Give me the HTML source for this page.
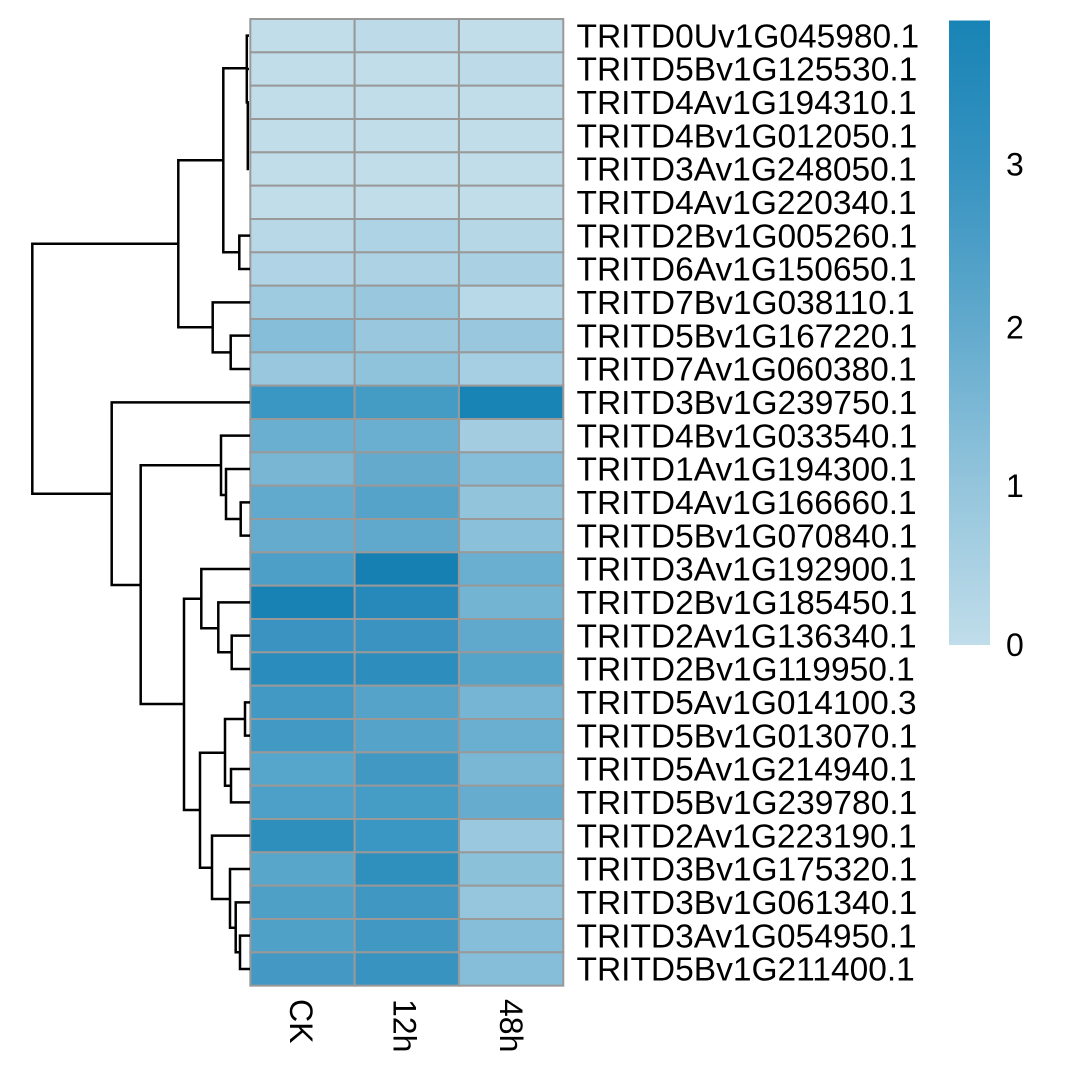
<!DOCTYPE html>
<html><head><meta charset="utf-8"><style>
html,body{margin:0;padding:0;background:#fff;}
svg{display:block;}
text{font-family:"Liberation Sans",Arial,sans-serif;fill:#000;}
</style></head><body>
<svg width="1067" height="1084" viewBox="0 0 1067 1084" xmlns="http://www.w3.org/2000/svg">
<defs>
<linearGradient id="lg" x1="0" y1="0" x2="0" y2="1">
<stop offset="0" stop-color="#1884B5"/>
<stop offset="0.23" stop-color="#3592C0"/>
<stop offset="0.49" stop-color="#62AACD"/>
<stop offset="0.746" stop-color="#94C5DC"/>
<stop offset="1" stop-color="#C0DDEA"/>
</linearGradient>
</defs>
<rect width="1067" height="1084" fill="#fff"/>
<g stroke="#999" stroke-width="2">
<!-- rows: y0=19, h=33.333; cols x0=250.3, w=104.33 -->
<rect x="250.3" y="19" width="104.33" height="33.33" fill="#C0DDE9"/><rect x="354.63" y="19" width="104.33" height="33.33" fill="#BCDAE7"/><rect x="458.96" y="19" width="104.33" height="33.33" fill="#C0DDE9"/>
<rect x="250.3" y="52.33" width="104.33" height="33.33" fill="#C0DDE9"/><rect x="354.63" y="52.33" width="104.33" height="33.33" fill="#C0DDE9"/><rect x="458.96" y="52.33" width="104.33" height="33.33" fill="#BCDAE7"/>
<rect x="250.3" y="85.67" width="104.33" height="33.33" fill="#C0DDE9"/><rect x="354.63" y="85.67" width="104.33" height="33.33" fill="#C0DDE9"/><rect x="458.96" y="85.67" width="104.33" height="33.33" fill="#C0DDE9"/>
<rect x="250.3" y="119" width="104.33" height="33.33" fill="#C0DDE9"/><rect x="354.63" y="119" width="104.33" height="33.33" fill="#C0DDE9"/><rect x="458.96" y="119" width="104.33" height="33.33" fill="#C0DDE9"/>
<rect x="250.3" y="152.33" width="104.33" height="33.33" fill="#C0DDE9"/><rect x="354.63" y="152.33" width="104.33" height="33.33" fill="#C0DDE9"/><rect x="458.96" y="152.33" width="104.33" height="33.33" fill="#C0DDE9"/>
<rect x="250.3" y="185.67" width="104.33" height="33.33" fill="#C0DDE9"/><rect x="354.63" y="185.67" width="104.33" height="33.33" fill="#C0DDE9"/><rect x="458.96" y="185.67" width="104.33" height="33.33" fill="#C0DDE9"/>
<rect x="250.3" y="219" width="104.33" height="33.33" fill="#B8D8E7"/><rect x="354.63" y="219" width="104.33" height="33.33" fill="#AED3E4"/><rect x="458.96" y="219" width="104.33" height="33.33" fill="#B6D7E6"/>
<rect x="250.3" y="252.33" width="104.33" height="33.33" fill="#B0D4E5"/><rect x="354.63" y="252.33" width="104.33" height="33.33" fill="#ADD2E3"/><rect x="458.96" y="252.33" width="104.33" height="33.33" fill="#AAD1E3"/>
<rect x="250.3" y="285.67" width="104.33" height="33.33" fill="#9FCBE1"/><rect x="354.63" y="285.67" width="104.33" height="33.33" fill="#99C8DE"/><rect x="458.96" y="285.67" width="104.33" height="33.33" fill="#B8D9E8"/>
<rect x="250.3" y="319" width="104.33" height="33.33" fill="#86BDD8"/><rect x="354.63" y="319" width="104.33" height="33.33" fill="#98C7DE"/><rect x="458.96" y="319" width="104.33" height="33.33" fill="#98C7DE"/>
<rect x="250.3" y="352.33" width="104.33" height="33.33" fill="#98C7DE"/><rect x="354.63" y="352.33" width="104.33" height="33.33" fill="#8FC3DB"/><rect x="458.96" y="352.33" width="104.33" height="33.33" fill="#A6CFE3"/>
<rect x="250.3" y="385.67" width="104.33" height="33.33" fill="#3A96C2"/><rect x="354.63" y="385.67" width="104.33" height="33.33" fill="#449CC5"/><rect x="458.96" y="385.67" width="104.33" height="33.33" fill="#1884B5"/>
<rect x="250.3" y="419" width="104.33" height="33.33" fill="#6BAFD0"/><rect x="354.63" y="419" width="104.33" height="33.33" fill="#6AAFD0"/><rect x="458.96" y="419" width="104.33" height="33.33" fill="#A3CCE1"/>
<rect x="250.3" y="452.33" width="104.33" height="33.33" fill="#78B6D4"/><rect x="354.63" y="452.33" width="104.33" height="33.33" fill="#63AACD"/><rect x="458.96" y="452.33" width="104.33" height="33.33" fill="#86BDD8"/>
<rect x="250.3" y="485.67" width="104.33" height="33.33" fill="#62AACD"/><rect x="354.63" y="485.67" width="104.33" height="33.33" fill="#55A3C9"/><rect x="458.96" y="485.67" width="104.33" height="33.33" fill="#92C4DC"/>
<rect x="250.3" y="519" width="104.33" height="33.33" fill="#64ABCD"/><rect x="354.63" y="519" width="104.33" height="33.33" fill="#60A9CC"/><rect x="458.96" y="519" width="104.33" height="33.33" fill="#8BC0DA"/>
<rect x="250.3" y="552.33" width="104.33" height="33.33" fill="#4D9FC7"/><rect x="354.63" y="552.33" width="104.33" height="33.33" fill="#1680B3"/><rect x="458.96" y="552.33" width="104.33" height="33.33" fill="#6AAFD0"/>
<rect x="250.3" y="585.67" width="104.33" height="33.33" fill="#1882B4"/><rect x="354.63" y="585.67" width="104.33" height="33.33" fill="#2789BA"/><rect x="458.96" y="585.67" width="104.33" height="33.33" fill="#74B4D3"/>
<rect x="250.3" y="619" width="104.33" height="33.33" fill="#3A93C1"/><rect x="354.63" y="619" width="104.33" height="33.33" fill="#3A93C1"/><rect x="458.96" y="619" width="104.33" height="33.33" fill="#60A9CC"/>
<rect x="250.3" y="652.33" width="104.33" height="33.33" fill="#2A8CBC"/><rect x="354.63" y="652.33" width="104.33" height="33.33" fill="#2D8DBC"/><rect x="458.96" y="652.33" width="104.33" height="33.33" fill="#54A3C9"/>
<rect x="250.3" y="685.67" width="104.33" height="33.33" fill="#4299C4"/><rect x="354.63" y="685.67" width="104.33" height="33.33" fill="#55A3C9"/><rect x="458.96" y="685.67" width="104.33" height="33.33" fill="#76B5D3"/>
<rect x="250.3" y="719" width="104.33" height="33.33" fill="#4299C4"/><rect x="354.63" y="719" width="104.33" height="33.33" fill="#55A3C9"/><rect x="458.96" y="719" width="104.33" height="33.33" fill="#6BAFD0"/>
<rect x="250.3" y="752.33" width="104.33" height="33.33" fill="#56A5CA"/><rect x="354.63" y="752.33" width="104.33" height="33.33" fill="#4199C3"/><rect x="458.96" y="752.33" width="104.33" height="33.33" fill="#7AB7D5"/>
<rect x="250.3" y="785.67" width="104.33" height="33.33" fill="#4DA0C7"/><rect x="354.63" y="785.67" width="104.33" height="33.33" fill="#459CC5"/><rect x="458.96" y="785.67" width="104.33" height="33.33" fill="#66ACCE"/>
<rect x="250.3" y="819" width="104.33" height="33.33" fill="#2E8EBC"/><rect x="354.63" y="819" width="104.33" height="33.33" fill="#3A96C2"/><rect x="458.96" y="819" width="104.33" height="33.33" fill="#9AC8DE"/>
<rect x="250.3" y="852.33" width="104.33" height="33.33" fill="#58A6CA"/><rect x="354.63" y="852.33" width="104.33" height="33.33" fill="#2F8FBD"/><rect x="458.96" y="852.33" width="104.33" height="33.33" fill="#8CC1DA"/>
<rect x="250.3" y="885.67" width="104.33" height="33.33" fill="#4EA0C7"/><rect x="354.63" y="885.67" width="104.33" height="33.33" fill="#3F97C2"/><rect x="458.96" y="885.67" width="104.33" height="33.33" fill="#96C6DD"/>
<rect x="250.3" y="919" width="104.33" height="33.33" fill="#4FA1C8"/><rect x="354.63" y="919" width="104.33" height="33.33" fill="#4199C3"/><rect x="458.96" y="919" width="104.33" height="33.33" fill="#86BDD8"/>
<rect x="250.3" y="952.33" width="104.33" height="33.33" fill="#4499C4"/><rect x="354.63" y="952.33" width="104.33" height="33.33" fill="#3993C1"/><rect x="458.96" y="952.33" width="104.33" height="33.33" fill="#86BDD8"/>
</g>
<g fill="none" stroke="#000" stroke-width="2.5" stroke-linecap="butt" stroke-linejoin="miter">
<path d="M249,35.67 H246.8 V102.33 H249"/>
<path d="M249,69 H246.8"/>
<path d="M247.8,102 V169 H249"/>
<path d="M249,135.67 H247.8"/>
<path d="M250,235.67 H239.3 V269 H250"/>
<path d="M246.8,68.3 H223.3 V252.3 H239.3"/>
<path d="M250,335.67 H230.7 V369 H250"/>
<path d="M250,302.33 H212.7 V352.33 H230.7"/>
<path d="M223.3,160.3 H178.3 V327.3 H212.7"/>
<path d="M178.3,243.8 H32.3 V493.7 H111.7"/>
<path d="M250,402.33 H111.7 V585 H140.7"/>
<path d="M250,435.67 H221 V495 H226"/>
<path d="M250,469 H226 V519 H240.7"/>
<path d="M250,502.33 H240.7 V535.67 H250"/>
<path d="M221,465.3 H140.7 V704 H184"/>
<path d="M201.3,598.7 H184 V810 H200"/>
<path d="M250,569 H201.3 V628.3 H218.3"/>
<path d="M250,602.33 H218.3 V652.3 H231.7"/>
<path d="M250,635.67 H231.7 V669 H250"/>
<path d="M225,752.7 H200 V867.7 H212"/>
<path d="M245,719 H225 V785.7 H231"/>
<path d="M250,702.33 H245 V735.67 H250"/>
<path d="M250,769 H231 V802.33 H250"/>
<path d="M250,835.67 H212 V899 H230"/>
<path d="M250,869 H230 V927.7 H235.7"/>
<path d="M250,902.33 H235.7 V952.3 H240"/>
<path d="M250,935.67 H240 V969 H250"/>
</g>
<g font-size="33.5">
<text x="576.5" y="47.4">TRITD0Uv1G045980.1</text>
<text x="576.5" y="80.7">TRITD5Bv1G125530.1</text>
<text x="576.5" y="114">TRITD4Av1G194310.1</text>
<text x="576.5" y="147.4">TRITD4Bv1G012050.1</text>
<text x="576.5" y="180.7">TRITD3Av1G248050.1</text>
<text x="576.5" y="214">TRITD4Av1G220340.1</text>
<text x="576.5" y="247.4">TRITD2Bv1G005260.1</text>
<text x="576.5" y="280.7">TRITD6Av1G150650.1</text>
<text x="576.5" y="314">TRITD7Bv1G038110.1</text>
<text x="576.5" y="347.4">TRITD5Bv1G167220.1</text>
<text x="576.5" y="380.7">TRITD7Av1G060380.1</text>
<text x="576.5" y="414">TRITD3Bv1G239750.1</text>
<text x="576.5" y="447.4">TRITD4Bv1G033540.1</text>
<text x="576.5" y="480.7">TRITD1Av1G194300.1</text>
<text x="576.5" y="514">TRITD4Av1G166660.1</text>
<text x="576.5" y="547.4">TRITD5Bv1G070840.1</text>
<text x="576.5" y="580.7">TRITD3Av1G192900.1</text>
<text x="576.5" y="614">TRITD2Bv1G185450.1</text>
<text x="576.5" y="647.4">TRITD2Av1G136340.1</text>
<text x="576.5" y="680.7">TRITD2Bv1G119950.1</text>
<text x="576.5" y="714">TRITD5Av1G014100.3</text>
<text x="576.5" y="747.4">TRITD5Bv1G013070.1</text>
<text x="576.5" y="780.7">TRITD5Av1G214940.1</text>
<text x="576.5" y="814">TRITD5Bv1G239780.1</text>
<text x="576.5" y="847.4">TRITD2Av1G223190.1</text>
<text x="576.5" y="880.7">TRITD3Bv1G175320.1</text>
<text x="576.5" y="914">TRITD3Bv1G061340.1</text>
<text x="576.5" y="947.4">TRITD3Av1G054950.1</text>
<text x="576.5" y="980.7">TRITD5Bv1G211400.1</text>
</g>
<g font-size="32">
<text transform="translate(290,999) rotate(90)">CK</text>
<text transform="translate(393.5,999) rotate(90)">12h</text>
<text transform="translate(500,999) rotate(90)">48h</text>
</g>
<rect x="949" y="20.5" width="41" height="624.5" fill="url(#lg)"/>
<g font-size="32">
<text x="1006" y="175.5">3</text>
<text x="1006" y="338.5">2</text>
<text x="1006" y="497.2">1</text>
<text x="1006" y="656">0</text>
</g>
</svg>
</body></html>
